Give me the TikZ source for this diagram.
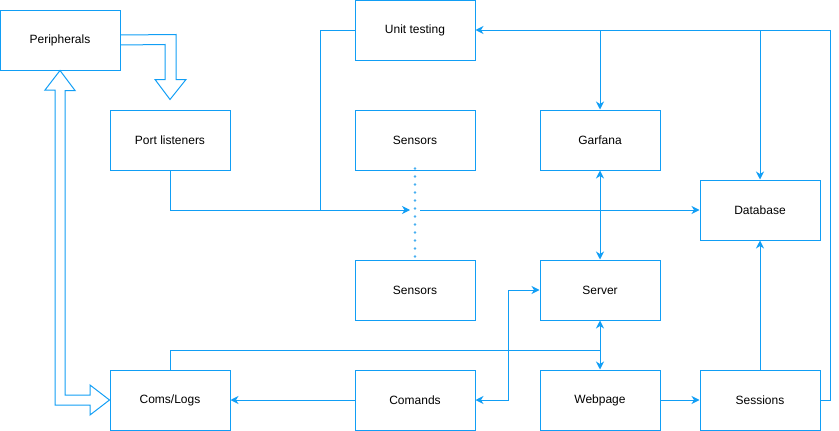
\documentclass[tikz,border=0pt]{standalone}
\usepackage{fontspec}
\setmainfont{Liberation Sans}
\usetikzlibrary{arrows.meta,calc,positioning}
\definecolor{lnB}{RGB}{17,158,245}
\definecolor{dtB}{RGB}{70,175,240}

\tikzset{
  blk/.style={draw=lnB, line width=1pt, minimum width=120pt, minimum height=60pt,
    inner sep=0pt, font=\fontsize{12}{14}\selectfont},
  lnk/.style={draw=lnB, line width=1pt},
  wire/.style={lnk, -{Stealth[length=8pt,width=8pt,inset=2.5pt]}},
  wirebi/.style={lnk, {Stealth[length=8pt,width=8pt,inset=2.5pt]}-{Stealth[length=8pt,width=8pt,inset=2.5pt]}},
  hollow/.style={draw=lnB, line width=1pt, line join=miter},
  dotln/.style={draw=dtB, line width=2.6pt, line cap=round, dash pattern=on 0pt off 8pt}
}

\begin{document}
\begin{tikzpicture}[x=1pt,y=-1pt]
    \useasboundingbox (0,0) rectangle (839,431);

    \node[blk] (per) at (60,40) {Peripherals};
    \node[blk] (ut)  at (415,30) {Unit testing};
    \node[blk] (pl)  at (170,140) {Port listeners};
    \node[blk] (sen1) at (415,140) {Sensors};
    \node[blk] (gar) at (600,140) {Garfana};
    \node[blk] (db)  at (760,210) {Database};
    \node[blk] (sen2) at (415,290) {Sensors};
    \node[blk] (srv) at (600,290) {Server};
    \node[blk] (cl)  at (170,400) {Coms/Logs};
    \node[blk] (cmd) at (415,400) {Comands};
    \node[blk] (web) at (600,400) {Webpage};
    \node[blk] (ses) at (760,400) {Sessions};

    \coordinate (mid) at (sen1.south |- db.west);
    \coordinate (utj) at (320,210);
    \coordinate (rt)  at (830,30);
    \coordinate (swj) at (600,350);

    % big hollow arrows
    \draw[hollow] ($(per.east)+(0,-5)$) -- ($(pl.north)+(6,-75)$) -- ($(pl.north)+(6,-30)$)
        -- ($(pl.north)+(16,-30)$) -- ($(pl.north)+(0,-10)$) -- ($(pl.north)+(-15,-30)$)
        -- ($(pl.north)+(-5,-30)$) -- ($(pl.north)+(-5,-65)$) -- ($(per.east)+(0,5)$);
    \draw[hollow] (per.south) -- ++(15,20) -- ++(-10,0) -- (65,395) -- (90,395) -- (90,385)
        -- (cl.west) -- (90,415) -- (90,405) -- (55,405) -- (55,90) -- (45,90) -- cycle;

    % sensors
    \draw[dotln] ([yshift=2pt]sen1.south) -- (sen2.north);

    % data flow
    \draw[lnk] (ut.west) -| (utj);
    \draw[wire, shorten >=5pt] (pl.south) |- (mid);
    \draw[wire] ([xshift=5pt]mid) -- (db.west);

    \draw[wire] (ses.east) -| (rt) -- (ut.east);
    \draw[wire] (gar.north |- rt) -- (gar.north);
    \draw[wire] (db.north |- rt) -- (db.north);

    \draw[wirebi] (gar.south) -- (srv.north);
    \draw[wirebi] (srv.south) -- (web.north);
    \draw[lnk] (cl.north) |- (swj);

    \draw[wire] (cmd.west) -- (cl.east);
    \draw[wirebi] (cmd.east) -- ++(33,0) |- (srv.west);
    \draw[wire] (web.east) -- (ses.west);
    \draw[wire] (ses.north) -- (db.south);
\end{tikzpicture}
\end{document}
